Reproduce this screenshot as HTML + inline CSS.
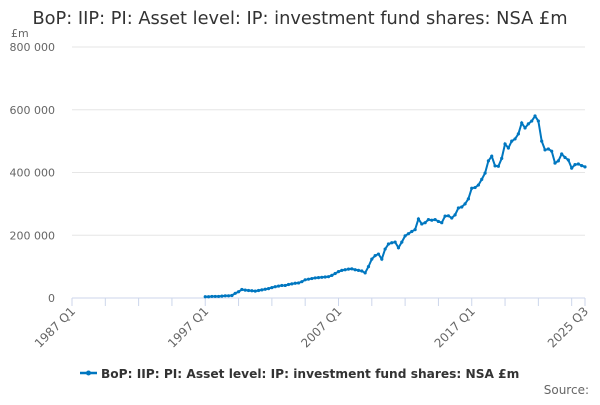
<!DOCTYPE html>
<html><head><meta charset="utf-8"><style>
body{margin:0;background:#fff;font-family:"Liberation Sans","DejaVu Sans",sans-serif}
svg text{font-family:"DejaVu Sans","Liberation Sans",sans-serif}
</style></head><body>
<svg id="chart" width="600" height="400" xmlns="http://www.w3.org/2000/svg">
<text x="300" y="24" text-anchor="middle" font-size="17.8" fill="#333">BoP: IIP: PI: Asset level: IP: investment fund shares: NSA £m</text>
<text x="11" y="37" font-size="11" fill="#666">£m</text>
<g id="grid"></g><g id="xaxis"></g><g id="series"></g>
<g>
<line x1="80" y1="373" x2="97" y2="373" stroke="#0077c0" stroke-width="2.5"/>
<circle cx="88.5" cy="373" r="2.5" fill="#0077c0"/>
<text x="101" y="378" font-size="12.2" font-weight="bold" fill="#333">BoP: IIP: PI: Asset level: IP: investment fund shares: NSA £m</text>
</g>
<text x="589" y="394" text-anchor="end" font-size="12" fill="#666">Source:</text>
</svg>
<script>
const yTicks=[0,200000,400000,600000,800000];
const yTickLabels=["0","200 000","400 000","600 000","800 000"];
const xTickLabels=["1987 Q1","1997 Q1","2007 Q1","2017 Q1","2025 Q3"];
const xLabelIndex=[0,40,80,120,154];
const startIndex=40;
const values=[4,4,5,5, 5,6,7,7, 8,15,20,27, 25,24,23,22, 24,26,28,30, 33,36,38,40, 40,43,45,47, 48,52,58,60, 62,64,65,66, 67,68,72,78, 84,88,90,92, 93,90,88,86, 80,100,124,135, 140,124,156,172, 176,178,160,178, 198,205,212,218, 252,236,240,250, 248,250,244,240, 261,262,255,265, 287,290,300,316, 350,352,360,378, 398,437,452,421, 420,445,491,478, 500,507,523,558, 542,555,564,580, 564,500,472,475, 468,430,437,459, 448,440,414,425, 427,422,418].map(v=>v*1000);
const X0=72,X1=585,NQ=154,Y0=298,Y1=47,YMAX=800000;
const xs=q=>X0+(X1-X0)*q/NQ, ys=v=>Y0-(Y0-Y1)*v/YMAX;
const NS="http://www.w3.org/2000/svg";
function mk(t,a,p){const e=document.createElementNS(NS,t);for(const k in a)e.setAttribute(k,a[k]);p.appendChild(e);return e;}
const grid=document.getElementById('grid'),xa=document.getElementById('xaxis'),se=document.getElementById('series');
yTicks.forEach((v,i)=>{
 if(v>0){const l=mk('line',{x1:X0,x2:X1,y1:ys(v),y2:ys(v),stroke:'#e6e6e6'},grid);
 
 }
 const t=mk('text',{x:55,y:ys(v)+4,'text-anchor':'end','font-size':11,fill:'#666'},grid);t.textContent=yTickLabels[i];
 
 
});
const ax=mk('line',{x1:X0,x2:X1,y1:Y0,y2:Y0,stroke:'#ccd6eb'},xa);


const tq=[];for(let q=0;q<NQ;q+=10)tq.push(q);tq.push(NQ);
tq.forEach(q=>{const t=mk('line',{x1:xs(q),x2:xs(q),y1:Y0,y2:Y0+8,stroke:'#ccd6eb'},xa);
 
 });
xTickLabels.forEach((s,i)=>{const x=xs(xLabelIndex[i])+4,y=Y0+14;
 const t=mk('text',{x:x,y:y,'text-anchor':'end','font-size':12,fill:'#666',transform:`rotate(-45 ${x} ${y})`},xa);t.textContent=s;
 
 });
const pts=values.map((v,i)=>[xs(startIndex+i),ys(v)]);
const pl=mk('polyline',{points:pts.map(p=>p.join(',')).join(' '),fill:'none',stroke:'#0077c0','stroke-width':2},se);


pts.forEach(p=>{const c=mk('circle',{cx:p[0],cy:p[1],r:1.6,fill:'#0077c0'},se);
 
 });
</script>
</body></html>
